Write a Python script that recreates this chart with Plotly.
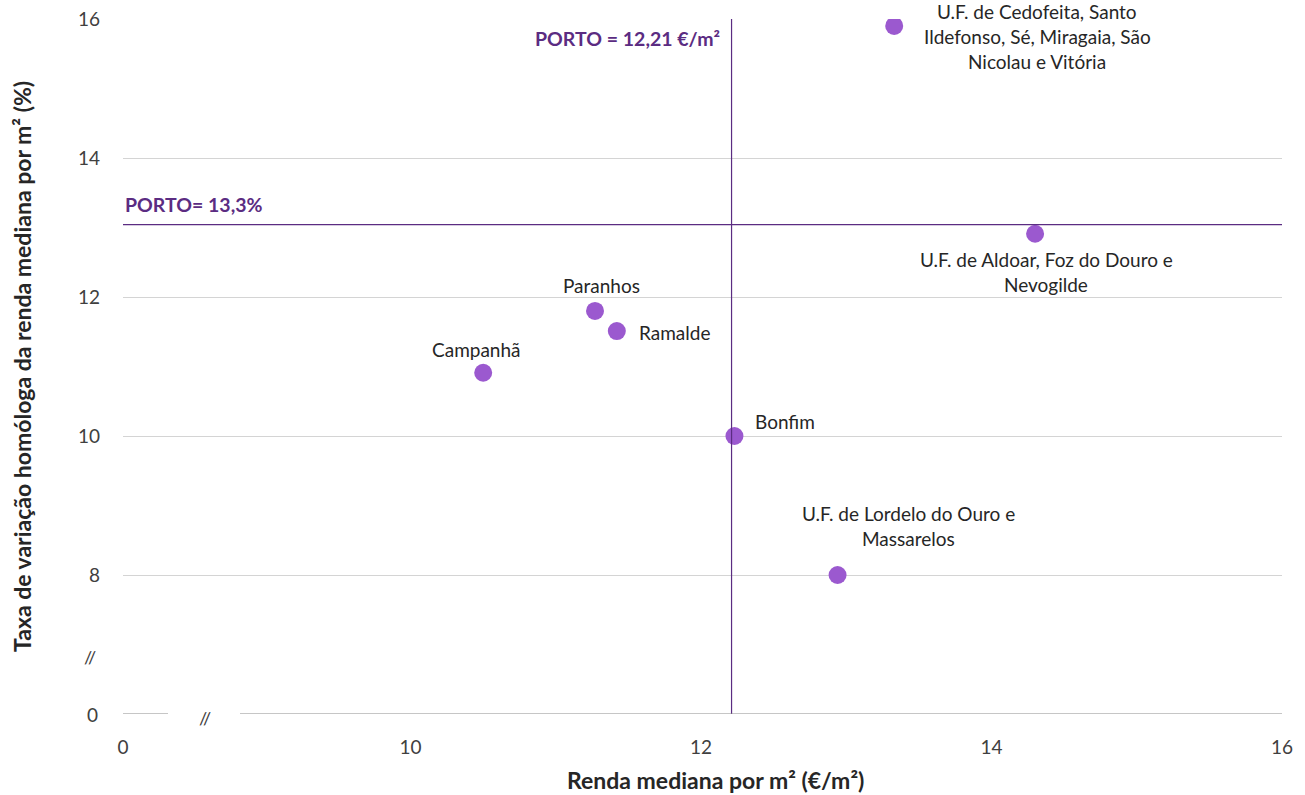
import plotly.graph_objects as go

# Data
names = [["U.F. de Cedofeita, Santo", "Ildefonso, Sé, Miragaia, São", "Nicolau e Vitória"],
         ["U.F. de Aldoar, Foz do Douro e", "Nevogilde"],
         ["Paranhos"], ["Ramalde"], ["Campanhã"], ["Bonfim"],
         ["U.F. de Lordelo do Ouro e", "Massarelos"]]
renda = [13.33, 14.30, 11.27, 11.42, 10.50, 12.23, 12.94]
taxa = [15.9, 12.91, 11.8, 11.51, 10.91, 10.0, 8.0]
porto_renda = 12.21
porto_taxa = 13.04
x_tick_vals = [8.02, 10, 12, 14, 16]
x_tick_text = ["0", "10", "12", "14", "16"]
y_tick_vals = [6, 8, 10, 12, 14, 16]
y_tick_text = ["0", "8", "10", "12", "14", "16"]

FONT = "Lato, Liberation Sans, sans-serif"
PURPLE = "#5B2C82"
DOT = "#9B59CF"
TXT = "#262626"
TICK = "#404040"

fig = go.Figure()
fig.add_trace(go.Scatter(x=renda, y=taxa, mode="markers",
                         marker=dict(size=18, color=DOT), hoverinfo="skip"))

# label placement: (xshift, first-line yshift, xanchor)
label_pos = [(143, 14, "center"), (11, -26, "center"), (6, 25, "center"),
             (20, -1, "left"), (-7, 23, "center"), (19, 15, "left"),
             (71, 62, "center")]
for lines, xv, yv, (dx, dy, xa) in zip(names, renda, taxa, label_pos):
    for i, ln in enumerate(lines):
        fig.add_annotation(x=xv, y=yv, text=ln, showarrow=False, xshift=dx, yshift=dy - 25 * i,
                           xanchor=xa, yanchor="middle",
                           font=dict(size=19, color=TXT, family=FONT))

# Reference lines
fig.add_shape(type="line", x0=porto_renda, x1=porto_renda, y0=6, y1=16, xref="x", yref="y",
              line=dict(color=PURPLE, width=1.2))
fig.add_shape(type="line", x0=8.02, x1=16, y0=porto_taxa, y1=porto_taxa, xref="x", yref="y",
              line=dict(color=PURPLE, width=1.2))
fig.add_annotation(x=porto_renda, y=16, text="<b>PORTO = 12,21 €/m²</b>", showarrow=False,
                   xanchor="right", yanchor="middle", xshift=-10, yshift=-19,
                   font=dict(size=19.5, color=PURPLE, family=FONT))
fig.add_annotation(x=8.02, y=porto_taxa, text="<b>PORTO= 13,3%</b>", showarrow=False,
                   xanchor="left", yanchor="middle", xshift=0, yshift=20,
                   font=dict(size=19.5, color=PURPLE, family=FONT))

# Broken x axis line
fig.add_shape(type="line", xref="paper", yref="y", x0=0, x1=(168-123)/1159, y0=6, y1=6,
              line=dict(color="#8c8c8c", width=1))
fig.add_shape(type="line", xref="paper", yref="y", x0=(240-123)/1159, x1=1, y0=6, y1=6,
              line=dict(color="#8c8c8c", width=1))
fig.add_annotation(xref="paper", yref="paper", x=(205-123)/1159, y=-4/695, text="//",
                   xanchor="center", yanchor="middle",
                   showarrow=False, font=dict(size=18, color=TICK, family=FONT))
fig.add_annotation(xref="paper", yref="paper", x=(90-123)/1159, y=(714-657)/695, text="//",
                   xanchor="center", yanchor="middle",
                   showarrow=False, font=dict(size=18, color=TICK, family=FONT))

# Axis titles
fig.add_annotation(xref="paper", yref="paper", x=(715-123)/1159, y=-(780-714)/695,
                   text="<b>Renda mediana por m² (€/m²)</b>", showarrow=False,
                   xanchor="center", yanchor="middle",
                   font=dict(size=23, color=TXT, family=FONT))
fig.add_annotation(xref="paper", yref="paper", x=-(123-22)/1159, y=(714-367)/695, textangle=-90,
                   text="<b>Taxa de variação homóloga da renda mediana por m² (%)</b>", showarrow=False,
                   xanchor="center", yanchor="middle",
                   font=dict(size=23, color=TXT, family=FONT))

fig.update_xaxes(range=[8.02, 16], tickvals=x_tick_vals, ticktext=x_tick_text, showgrid=False,
                 zeroline=False, showline=False, ticks="", ticklabelstandoff=20, automargin=False,
                 tickfont=dict(size=19, color=TICK, family=FONT))
fig.update_yaxes(range=[6, 16], tickvals=y_tick_vals[1:], ticktext=y_tick_text[1:], showgrid=True,
                 gridcolor="#d4d4d4", gridwidth=1, zeroline=False, showline=False, ticks="",
                 ticklabelstandoff=22, automargin=False,
                 tickfont=dict(size=19, color=TICK, family=FONT))
# '0' label for y
fig.add_annotation(xref="paper", yref="y", x=(92-123)/1159, y=y_tick_vals[0], text=y_tick_text[0],
                   xanchor="center", yanchor="middle",
                   showarrow=False, font=dict(size=19, color=TICK, family=FONT))

fig.update_layout(width=1305, height=795, margin=dict(l=123, r=23, t=19, b=81, autoexpand=False),
                  plot_bgcolor="white", paper_bgcolor="white", showlegend=False,
                  font=dict(family=FONT))
fig.write_html("out.html", config={"displayModeBar": False},
               post_script="document.body.style.margin='0';document.body.style.overflow='hidden';")
